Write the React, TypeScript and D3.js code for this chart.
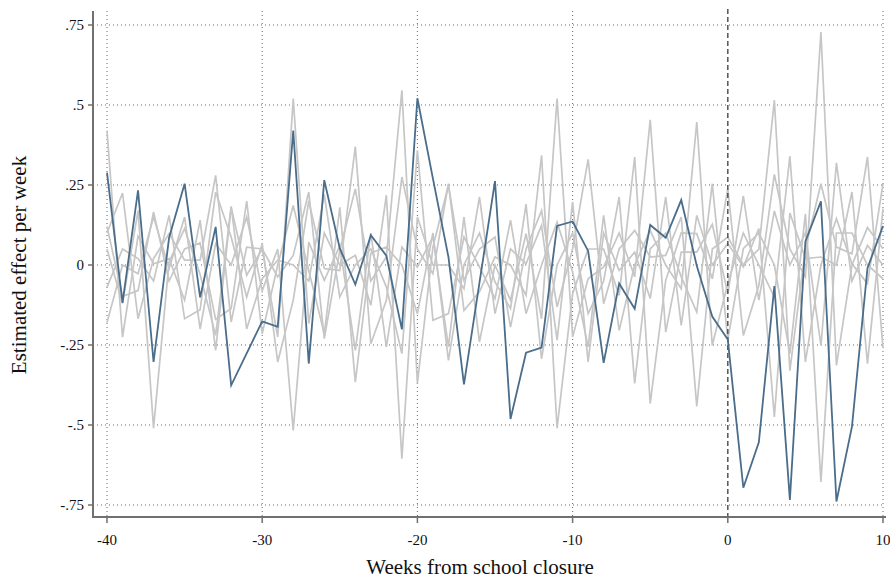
import React from "react";
import { scaleLinear, line } from "d3";

const weeks = Array.from({ length: 51 }, (_, i) => i - 40);

// highlighted series (blue)
const mainSeries = [
  0.289, -0.118, 0.233, -0.303, 0.085, 0.254, -0.101, 0.119, -0.376, -0.276,
  -0.176, -0.193, 0.42, -0.308, 0.265, 0.052, -0.061, 0.093, 0.029, -0.201,
  0.521, 0.27, 0.025, -0.373, -0.055, 0.262, -0.481, -0.274, -0.258, 0.122,
  0.136, 0.044, -0.306, -0.058, -0.137, 0.125, 0.085, 0.203, -0.002, -0.161,
  -0.233, -0.696, -0.554, -0.066, -0.734, 0.074, 0.199, -0.739, -0.505, -0.01,
  0.122,
];

// comparison series (grey)
const grey1 = [
  0.42, -0.225, 0.09, 0.004, 0.02, -0.11, 0.14, -0.267, 0.18, -0.032, 0.05,
  -0.225, 0.52, -0.183, 0.1, 0.0, 0.03, -0.126, 0.218, -0.605, 0.15, 0.0, 0.0,
  -0.074, 0.2125, -0.152, 0.05, 0.004, 0.124, -0.235, 0.197, -0.303, 0.1,
  -0.017, 0.04, -0.105, 0.2125, -0.189, 0.155, 0.0, 0.067, -0.006, 0.114,
  -0.475, 0.1625, 0.02, 0.025, 0.0, 0.228, -0.308, 0.176,
];
const grey2 = [
  0.12, -0.098, -0.08, 0.166, -0.05, 0.05, 0.069, -0.17, -0.136, 0.2, -0.215,
  0.0, 0.186, -0.017, -0.215, 0.18, -0.366, 0.0375, 0.056, 0.0, -0.152, 0.1,
  -0.298, 0.0, 0.1, -0.053, -0.136, 0.19, -0.293, 0.0, 0.1, -0.152, -0.05,
  0.2125, -0.37, 0.05, 0.1, -0.037, -0.147, 0.254, -0.235, 0.051, 0.1, 0.0,
  -0.277, 0.16, -0.678, 0.1, 0.1, 0.0, -0.043,
];
const grey3 = [
  0.1, 0.225, -0.168, 0.02, 0.098, 0.015, 0.015, 0.28, -0.178, 0.056, 0.05,
  -0.037, 0.03, 0.228, -0.23, 0.046, 0.238, -0.05, 0.025, 0.546, -0.37, 0.056,
  0.25, -0.048, 0.05, 0.0875, -0.194, 0.05, 0.17, -0.131, 0.051, 0.33, -0.121,
  0.05, 0.108, 0.025, 0.03, 0.15, -0.442, 0.05, 0.0875, 0.0, 0.05, 0.515,
  -0.33, 0.05, 0.254, 0.056, 0.035, 0.3375, -0.26,
];
const grey4 = [
  0.05, -0.12, 0.17, -0.51, 0.01, 0.114, -0.03, -0.22, 0.183, -0.2, -0.043,
  0.015, 0.0, -0.05, 0.22, -0.1, 0.0, 0.05, -0.069, -0.277, 0.358, -0.173,
  -0.152, 0.0875, -0.006, -0.105, 0.14, -0.152, 0.0, 0.134, -0.022, -0.256,
  0.155, -0.204, 0.0, 0.108, 0.0, -0.074, 0.447, -0.251, -0.058, 0.1, 0.0,
  -0.1, 0.34, -0.303, 0.0, 0.145, 0.004, -0.058, 0.254,
];
const grey5 = [
  -0.07, 0.05, 0.02, -0.05, 0.155, -0.168, -0.14, 0.228, 0.0875, -0.1, 0.067,
  -0.303, -0.11, 0.2, -0.011, -0.017, 0.37, -0.246, -0.11, 0.275, 0.05, -0.027,
  0.254, -0.142, -0.084, 0.025, 0.0, -0.095, 0.343, -0.51, -0.09, 0.05, 0.05,
  -0.095, 0.3375, -0.433, -0.048, 0.1, 0.098, -0.043, 0.239, -0.22, -0.064,
  0.283, 0.05, -0.0375, 0.728, -0.314, 0.0, 0.117, 0.051,
];
const grey6 = [
  -0.18, 0.0, -0.027, 0.15, -0.011, 0.15, -0.2, 0.067, 0.0, 0.15, -0.08, 0.05,
  -0.517, 0.072, -0.048, 0.06, -0.267, 0.1, -0.256, 0.056, -0.006, 0.0875,
  -0.256, 0.15, -0.24, 0.0, -0.11, 0.098, -0.168, 0.52, -0.225, -0.043, -0.006,
  0.1, -0.037, 0.454, -0.21, 0.04, 0.04, 0.127, -0.09, 0.216, -0.11, 0.169,
  0.0, 0.1, -0.251, 0.319, -0.05, 0.061, 0.0,
];
const greySeries = [grey1, grey2, grey3, grey4, grey5, grey6];

const xTicks = [-40, -30, -20, -10, 0, 10];
const xTickLabels = ["-40", "-30", "-20", "-10", "0", "10"];
const yTicks = [0.75, 0.5, 0.25, 0, -0.25, -0.5, -0.75];
const yTickLabels = [".75", ".5", ".25", "0", "-.25", "-.5", "-.75"];

const W = 890;
const H = 579;
const axisX = 93;
const axisY = 517;
const font = "'Liberation Serif', 'DejaVu Serif', serif";

export default function App() {
  const x = scaleLinear().domain([-40, 10]).range([107, 883]);
  const y = scaleLinear().domain([-0.75, 0.75]).range([505, 25]);

  const path = line<number>()
    .x((_, i) => x(weeks[i]))
    .y((d) => y(d));

  return (
    <svg
      width={W}
      height={H}
      style={{ position: "absolute", left: 0, top: 0, background: "#fff" }}
      fontFamily={font}
    >
      {/* grid */}
      {yTicks.map((t) => (
        <line
          key={"gy" + t}
          x1={axisX}
          x2={885}
          y1={y(t)}
          y2={y(t)}
          stroke="#666"
          strokeWidth={1}
          strokeDasharray="1 3"
        />
      ))}
      {xTicks
        .filter((t) => t !== 0)
        .map((t) => (
          <line
            key={"gx" + t}
            x1={x(t)}
            x2={x(t)}
            y1={11}
            y2={axisY}
            stroke="#666"
            strokeWidth={1}
            strokeDasharray="1 3"
          />
        ))}

      {/* grey series */}
      {greySeries.map((s, i) => (
        <path
          key={"g" + i}
          d={path(s) || ""}
          fill="none"
          stroke="#c6c6c6"
          strokeWidth={1.7}
        />
      ))}

      {/* closure line */}
      <line
        x1={x(0)}
        x2={x(0)}
        y1={9}
        y2={axisY}
        stroke="#555"
        strokeWidth={1.5}
        strokeDasharray="5 3"
      />

      {/* main series */}
      <path
        d={path(mainSeries) || ""}
        fill="none"
        stroke="#4a6d8b"
        strokeWidth={1.8}
      />

      {/* axes */}
      <line x1={axisX} x2={axisX} y1={11} y2={axisY + 1} stroke="#707070" strokeWidth={2} />
      <line x1={axisX - 1} x2={886} y1={axisY} y2={axisY} stroke="#707070" strokeWidth={2} />

      {yTicks.map((t, i) => (
        <g key={"yt" + t}>
          <line x1={axisX - 5} x2={axisX} y1={y(t)} y2={y(t)} stroke="#707070" strokeWidth={1.5} />
          <text
            x={axisX - 9}
            y={y(t)}
            dy="0.35em"
            textAnchor="end"
            fontSize={15}
            fill="#111"
          >
            {yTickLabels[i]}
          </text>
        </g>
      ))}
      {xTicks.map((t, i) => (
        <g key={"xt" + t}>
          <line x1={x(t)} x2={x(t)} y1={axisY} y2={axisY + 6} stroke="#707070" strokeWidth={1.5} />
          <text
            x={x(t)}
            y={axisY + 28}
            textAnchor="middle"
            fontSize={15}
            fill="#111"
          >
            {xTickLabels[i]}
          </text>
        </g>
      ))}

      <text x={480} y={574} textAnchor="middle" fontSize={21} fill="#111">
        Weeks from school closure
      </text>
      <text
        transform={`translate(26, ${y(0)}) rotate(-90)`}
        textAnchor="middle"
        fontSize={21}
        fill="#111"
      >
        Estimated effect per week
      </text>
    </svg>
  );
}
